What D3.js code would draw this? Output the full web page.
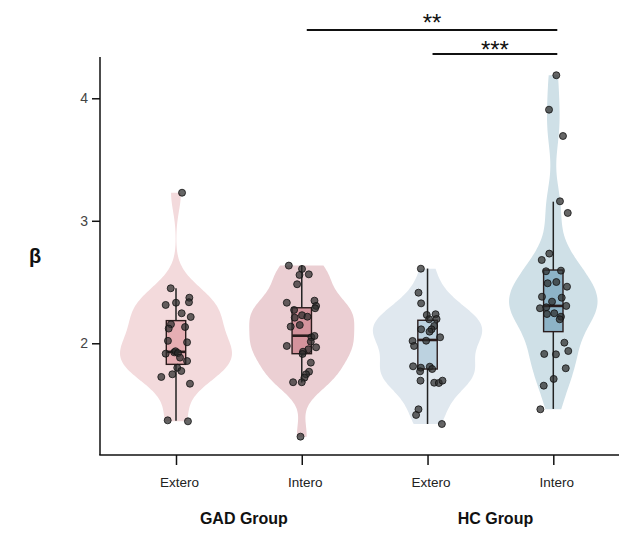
<!DOCTYPE html>
<html>
<head>
<meta charset="utf-8">
<script src="https://cdn.jsdelivr.net/npm/d3@7"></script>
<style>
  body { margin: 0; background: #fff; }
  svg { display: block; font-family: "Liberation Sans", Arial, sans-serif; }
</style>
</head>
<body>
<svg id="vis" width="640" height="541"></svg>
<script>
// categories on the x axis and the two groups below them
var categories = ["GAD Extero", "GAD Intero", "HC Extero", "HC Intero"];
var tickLabels = ["Extero", "Intero", "Extero", "Intero"];
var groupLabels = ["GAD Group", "HC Group"];
var yTicks = [2, 3, 4];

// points: [jitter (fraction of category step), beta]
var gadExtero = [[0.048,3.229],[-0.042,2.449],[-0.082,2.313],[0,2.331],[0.106,2.372],[0.103,2.335],
  [0.045,2.245],[0.117,2.215],[-0.04,2.155],[-0.058,2.12],[0.072,2.133],[-0.064,2.02],[0.088,2.008],
  [-0.082,1.915],[-0.014,1.926],[-0.004,1.935],[0.016,1.92],[0.032,1.883],[0.088,1.855],[0.01,1.80],
  [0.042,1.774],[-0.029,1.747],[-0.117,1.725],[0.111,1.67],[-0.066,1.371],[0.095,1.363]];
var gadIntero = [[-0.103,2.634],[0.002,2.607],[-0.018,2.558],[0.056,2.563],[-0.037,2.482],[-0.119,2.331],
  [0.101,2.348],[0.114,2.305],[0.106,2.286],[-0.061,2.272],[-0.056,2.209],[0.002,2.229],[0.045,2.217],
  [-0.016,2.149],[-0.088,2.136],[0.077,2.049],[0.101,2.06],[0.072,2.013],[-0.119,1.978],[0.114,1.967],
  [0.053,1.951],[0.01,1.931],[0.006,1.913],[0.072,1.842],[0.058,1.768],[0.034,1.747],[0.021,1.719],
  [-0.069,1.682],[0,1.682],[-0.01,1.238]];
var hcExtero = [[-0.053,2.609],[-0.072,2.413],[-0.051,2.326],[-0.006,2.231],[0.064,2.237],[0.013,2.196],
  [0.072,2.198],[0.053,2.141],[0.032,2.114],[-0.051,2.114],[0.016,2.095],[0.1,2.049],[-0.119,2.019],
  [-0.107,1.978],[-0.011,2.021],[-0.115,1.812],[-0.053,1.801],[0.018,1.809],[0.037,1.79],[-0.059,1.771],
  [-0.056,1.695],[0.053,1.678],[0.09,1.676],[0.119,1.695],[-0.072,1.461],[-0.091,1.415],[0.114,1.341]];
var hcIntero = [[0.024,4.188],[-0.034,3.907],[0.077,3.692],[0.053,3.159],[0.115,3.064],[-0.032,2.732],
  [-0.092,2.68],[-0.058,2.588],[0.061,2.593],[-0.045,2.49],[0.024,2.50],[0.109,2.462],[-0.09,2.38],
  [0.067,2.372],[-0.01,2.34],[-0.106,2.286],[-0.056,2.294],[0.103,2.305],[-0.05,2.239],[0.008,2.245],
  [0.061,2.217],[0.051,2.196],[0.088,2.005],[-0.072,1.913],[0.021,1.91],[0.119,1.937],[0.099,1.796],
  [0.003,1.709],[-0.076,1.654],[-0.103,1.461]];
var points = [gadExtero, gadIntero, hcExtero, hcIntero];

// box plot stats as drawn: whisker low, Q1, median, Q3, whisker high
var whiskLo = [1.368, 1.680, 1.341, 1.464];
var boxQ1   = [1.828, 1.915, 1.790, 2.095];
var boxMed  = [1.930, 2.062, 2.027, 2.305];
var boxQ3   = [2.185, 2.290, 2.188, 2.598];
var whiskHi = [2.449, 2.634, 2.610, 3.156];

// significance brackets: [from category, to category, label]
var sigPairs = [[1, 3, "**"], [2, 3, "***"]];

var violinFill = ["#f3dadc", "#ebcfd3", "#e0e8ef", "#cfe0e7"];
var boxFill = ["#e6aeb3", "#d4939c", "#bcd2e0", "#8db3c7"];

var svg = d3.select("#vis");
var AXIS_LEFT = 100, AXIS_RIGHT = 619, AXIS_BOTTOM = 455, AXIS_TOP = 57;
var MAX_HALF = 56, BOX_HALF = 9.7;

var y = d3.scaleLinear().domain([1.088, 4.337]).range([AXIS_BOTTOM, AXIS_TOP]);
var x = d3.scalePoint().domain(categories).range([176, 553.3]);
var step = x.step();

// gaussian kde with silverman (nrd0) bandwidth, trimmed to data range
function kde(values) {
  var n = values.length;
  var sorted = values.slice().sort(d3.ascending);
  var sd = d3.deviation(values);
  var iqr = d3.quantile(sorted, 0.75) - d3.quantile(sorted, 0.25);
  var bw = 0.9 * Math.min(sd, iqr / 1.34) * Math.pow(n, -0.2);
  var lo = d3.min(values), hi = d3.max(values);
  var out = [];
  for (var i = 0; i <= 120; i++) {
    var v = lo + (hi - lo) * i / 120;
    var s = 0;
    values.forEach(function(d) {
      var u = (v - d) / bw;
      s += Math.exp(-0.5 * u * u);
    });
    out.push([v, s / (n * bw * Math.sqrt(2 * Math.PI))]);
  }
  return out;
}

var densities = points.map(function(p) { return kde(p.map(function(d) { return d[1]; })); });
var maxDens = d3.max(densities, function(ds) { return d3.max(ds, function(d) { return d[1]; }); });
var w = d3.scaleLinear().domain([0, maxDens]).range([0, MAX_HALF]);

// violins
densities.forEach(function(ds, i) {
  var cx = x(categories[i]);
  var area = d3.area()
    .y(function(d) { return y(d[0]); })
    .x0(function(d) { return cx - w(d[1]); })
    .x1(function(d) { return cx + w(d[1]); })
    .curve(d3.curveBasis);
  svg.append("path").datum(ds)
    .attr("d", area)
    .attr("fill", violinFill[i]);
});

// whiskers, boxes, medians
var boxes = svg.selectAll("g.box").data(categories).enter().append("g").attr("class", "box");
boxes.append("line")
  .attr("x1", function(d) { return x(d); }).attr("x2", function(d) { return x(d); })
  .attr("y1", function(d, i) { return y(whiskLo[i]); })
  .attr("y2", function(d, i) { return y(whiskHi[i]); })
  .attr("stroke", "#222").attr("stroke-width", 1.5);
boxes.append("rect")
  .attr("x", function(d) { return x(d) - BOX_HALF; })
  .attr("width", BOX_HALF * 2)
  .attr("y", function(d, i) { return y(boxQ3[i]); })
  .attr("height", function(d, i) { return y(boxQ1[i]) - y(boxQ3[i]); })
  .attr("fill", function(d, i) { return boxFill[i]; })
  .attr("stroke", "#2a1c1c").attr("stroke-width", 1.4);
boxes.append("line")
  .attr("x1", function(d) { return x(d) - BOX_HALF; })
  .attr("x2", function(d) { return x(d) + BOX_HALF; })
  .attr("y1", function(d, i) { return y(boxMed[i]); })
  .attr("y2", function(d, i) { return y(boxMed[i]); })
  .attr("stroke", "#2a1c1c").attr("stroke-width", 2.6);

// jittered points
points.forEach(function(p, i) {
  var cx = x(categories[i]);
  svg.selectAll(null).data(p).enter().append("circle")
    .attr("cx", function(d) { return cx + d[0] * step; })
    .attr("cy", function(d) { return y(d[1]); })
    .attr("r", 3.5)
    .attr("fill", "#2b2b2b").attr("fill-opacity", 0.72)
    .attr("stroke", "#111").attr("stroke-width", 0.8);
});

// axes
svg.append("line").attr("x1", AXIS_LEFT).attr("x2", AXIS_LEFT)
  .attr("y1", AXIS_TOP).attr("y2", AXIS_BOTTOM)
  .attr("stroke", "#111").attr("stroke-width", 1.5);
svg.append("line").attr("x1", AXIS_LEFT - 0.75).attr("x2", AXIS_RIGHT)
  .attr("y1", AXIS_BOTTOM).attr("y2", AXIS_BOTTOM)
  .attr("stroke", "#111").attr("stroke-width", 1.5);

var yAxis = svg.append("g")
  .attr("transform", "translate(" + AXIS_LEFT + ",0)")
  .call(d3.axisLeft(y).tickValues(yTicks).tickSize(8).tickPadding(4).tickFormat(d3.format("d")));
yAxis.select(".domain").remove();
yAxis.selectAll("line").attr("stroke", "#111").attr("stroke-width", 1.5);
yAxis.selectAll("text").attr("font-size", 14).attr("fill", "#444")
  .attr("font-family", "Liberation Sans, Arial, sans-serif");

var xAxis = svg.append("g")
  .attr("transform", "translate(0," + AXIS_BOTTOM + ")")
  .call(d3.axisBottom(x).tickSize(10).tickPadding(12).tickFormat(function(d, i) { return tickLabels[i]; }));
xAxis.select(".domain").remove();
xAxis.selectAll("line").attr("stroke", "#111").attr("stroke-width", 1.5);
xAxis.selectAll("text").attr("font-size", 13.5).attr("fill", "#222").attr("dx", 3)
  .attr("font-family", "Liberation Sans, Arial, sans-serif");

// group labels
[[0, 1], [2, 3]].forEach(function(pair, gi) {
  svg.append("text")
    .attr("x", (x(categories[pair[0]]) + x(categories[pair[1]])) / 2 + 5)
    .attr("y", 524)
    .attr("text-anchor", "middle")
    .attr("font-size", 16).attr("font-weight", "bold").attr("fill", "#111")
    .text(groupLabels[gi]);
});

// y label
svg.append("text").attr("x", 35).attr("y", 263)
  .attr("text-anchor", "middle").attr("font-size", 20).attr("font-weight", "bold")
  .attr("fill", "#111").text("β");

// significance brackets
var sigY = [30, 54];
var sigTextY = [30.5, 58];
sigPairs.forEach(function(s, i) {
  var x1 = x(categories[s[0]]) + 5, x2 = x(categories[s[1]]) + 4;
  svg.append("line").attr("x1", x1).attr("x2", x2)
    .attr("y1", sigY[i]).attr("y2", sigY[i])
    .attr("stroke", "#111").attr("stroke-width", 2);
  svg.append("text").attr("x", (x1 + x2) / 2).attr("y", sigTextY[i])
    .attr("text-anchor", "middle").attr("font-size", 24).attr("fill", "#111")
    .text(s[2]);
});
</script>
</body>
</html>
